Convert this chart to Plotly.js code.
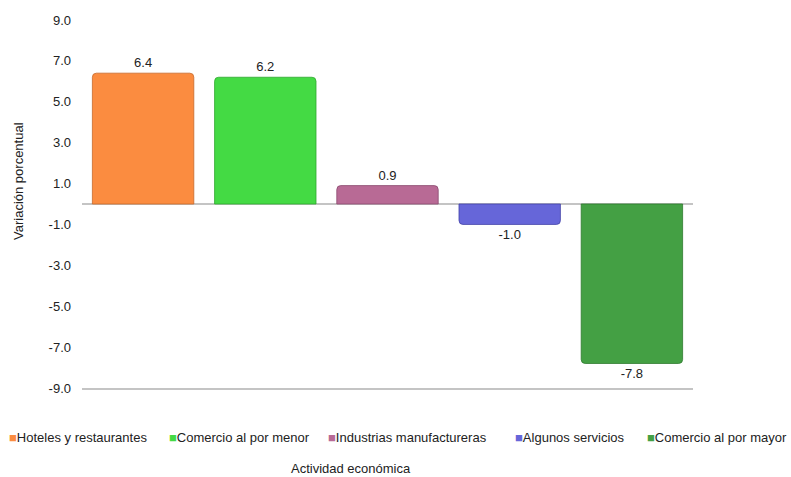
<!DOCTYPE html>
<html>
<head>
<meta charset="utf-8">
<script src="https://cdn.plot.ly/plotly-3.0.1.min.js"></script>
<style>html,body{margin:0;padding:0;background:#fff;}#chart{width:791px;height:477px;}</style>
</head>
<body>
<div id="chart"></div>
<script>
const categories = ["Hoteles y restaurantes", "Comercio al por menor", "Industrias manufactureras", "Algunos servicios", "Comercio al por mayor"];
const values = [6.4, 6.2, 0.9, -1.0, -7.8];
const colors = ["#FB8C40", "#44DA44", "#B86A95", "#6666D9", "#44A044"];
const edgeColors = ["#C8692C", "#2FA82F", "#8A4A6E", "#4545A8", "#2F7A2F"];
const yTicks = [-9, -7, -5, -3, -1, 1, 3, 5, 7, 9];
const legendX = [7, 167, 326, 513, 645];

const FONT = "Liberation Sans, Arial, sans-serif";

const traces = categories.map((c, i) => ({
  type: "bar",
  name: c,
  x: [c],
  y: [values[i]],
  text: [values[i].toFixed(1)],
  width: 0.83,
  marker: {color: colors[i], cornerradius: 4, line: {color: edgeColors[i], width: 0.8}},
  texttemplate: "%{text}",
  textposition: "outside",
  cliponaxis: false,
  textfont: {family: FONT, size: 13, color: "#222"},
  showlegend: false,
  hoverinfo: "x+y"
}));

const annotations = categories.map((c, i) => ({
  xref: "paper", yref: "paper",
  x: (legendX[i] - 82) / (693 - 82),
  y: (477 - 89 - 437) / (477 - 89 - 20),
  xanchor: "left", yanchor: "middle",
  showarrow: false,
  text: "<span style='color:" + colors[i] + "'>■</span>" + c,
  font: {family: FONT, size: 13, color: "#222"}
}));

annotations.push({
  xref: "paper", yref: "paper",
  x: (351 - 82) / (693 - 82), y: (477 - 89 - 468) / (477 - 89 - 20),
  xanchor: "center", yanchor: "middle", showarrow: false,
  text: "Actividad económica",
  font: {family: FONT, size: 13, color: "#222"}
});
annotations.push({
  xref: "paper", yref: "paper",
  x: (18 - 82) / (693 - 82), y: (477 - 89 - 181) / (477 - 89 - 20),
  xanchor: "center", yanchor: "middle", showarrow: false, textangle: -90,
  text: "Variación porcentual",
  font: {family: FONT, size: 13, color: "#222"}
});

const layout = {
  width: 791, height: 477,
  margin: {l: 82, r: 98, t: 20, b: 89},
  paper_bgcolor: "#fff", plot_bgcolor: "#fff",
  barmode: "overlay",
  font: {family: FONT, size: 13, color: "#222"},
  xaxis: {
    categoryorder: "array", categoryarray: categories,
    showticklabels: false, showgrid: false, zeroline: false,
    showline: true, linecolor: "#C4C4C4", linewidth: 1.5, ticks: ""
  },
  yaxis: {
    range: [-9, 9], tickvals: yTicks, ticktext: yTicks.map(v => v.toFixed(1)),
    showgrid: false, zeroline: true, zerolinecolor: "#C4C4C4", zerolinewidth: 1.5,
    showline: false, ticks: "", ticklabelstandoff: 10,
    tickfont: {family: FONT, size: 13, color: "#222"}
  },
  showlegend: false,
  annotations: annotations
};

Plotly.newPlot("chart", traces, layout, {displayModeBar: false, staticPlot: true});
</script>
</body>
</html>
